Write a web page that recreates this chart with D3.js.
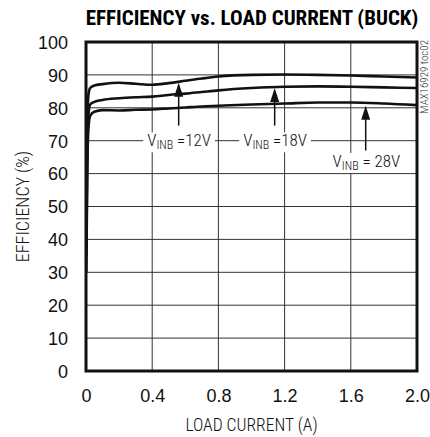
<!DOCTYPE html>
<html>
<head>
<meta charset="utf-8">
<script src="https://cdn.jsdelivr.net/npm/d3@7"></script>
<style>
  body { margin: 0; background: #fff; }
  svg { display: block; font-family: "Liberation Sans Narrow", "Roboto Condensed", "Liberation Sans", sans-serif; }
</style>
</head>
<body>
<svg></svg>
<script>
const svgWidth = 430;
const svgHeight = 437;

// load current (A)
const loadCurrent = [0.002, 0.008, 0.015, 0.025, 0.05, 0.1, 0.2, 0.3, 0.4, 0.5, 0.6, 0.7, 0.8, 1.0, 1.2, 1.4, 1.6, 1.8, 2.0];
// efficiency (%) for each input voltage
const eff12 = [40, 75, 84, 86, 86.8, 87.2, 87.6, 87.3, 87.0, 87.5, 88.2, 88.9, 89.5, 90.0, 90.1, 90.0, 89.8, 89.5, 89.2];
const eff18 = [35, 68, 78, 81, 81.8, 82.4, 82.9, 83.2, 83.4, 83.9, 84.3, 84.8, 85.3, 86.0, 86.4, 86.5, 86.4, 86.2, 86.0];
const eff28 = [30, 62, 74, 77.5, 78.8, 79.3, 79.2, 79.4, 79.5, 79.8, 80.1, 80.4, 80.6, 81.0, 81.3, 81.6, 81.6, 81.3, 80.8];

const xTicks = [0, 0.4, 0.8, 1.2, 1.6, 2.0];
const xTickLabels = ["0", "0.4", "0.8", "1.2", "1.6", "2.0"];
const yTicks = [0, 10, 20, 30, 40, 50, 60, 70, 80, 90, 100];

// annotation labels: value, text position, arrow
const labelNames = ["=12V", "=18V", "= 28V"];
const labelX = [0.37, 0.95, 1.49];
const labelY = [68.3, 68.3, 62.0];
const arrowX = [0.56, 1.14, 1.69];
const arrowFrom = [74.6, 74.6, 67.0];
const arrowTo = [87.6, 86.0, 80.6];

const margin = {top: 42, right: 13, bottom: 66, left: 86};

const svg = d3.select("svg")
  .attr("width", svgWidth)
  .attr("height", svgHeight);

const x = d3.scaleLinear().domain([0, 2]).range([margin.left, svgWidth - margin.right]);
const y = d3.scaleLinear().domain([0, 100]).range([svgHeight - margin.bottom, margin.top]);

// title
svg.append("text")
  .attr("x", 252).attr("y", 25)
  .attr("text-anchor", "middle")
  .attr("font-size", 21).attr("font-weight", "bold")
  .text("EFFICIENCY vs. LOAD CURRENT (BUCK)");

// grid
svg.append("g").selectAll("line")
  .data(xTicks.slice(1, -1))
  .enter().append("line")
  .attr("x1", d => x(d)).attr("x2", d => x(d))
  .attr("y1", y(0)).attr("y2", y(100))
  .attr("stroke", "#333").attr("stroke-width", 1);

svg.append("g").selectAll("line")
  .data(yTicks.slice(1, -1))
  .enter().append("line")
  .attr("x1", x(0)).attr("x2", x(2))
  .attr("y1", d => y(d)).attr("y2", d => y(d))
  .attr("stroke", "#333").attr("stroke-width", 1);

// axes labels
const yAxis = d3.axisLeft(y).tickValues(yTicks).tickSize(0).tickPadding(18);
svg.append("g")
  .attr("transform", "translate(" + x(0) + ",0)")
  .call(yAxis)
  .call(g => g.select(".domain").remove())
  .selectAll("text")
  .attr("font-size", 18).attr("font-weight", 300).attr("font-family", "inherit").attr("fill", "#111").attr("dy", "0.35em");

const xAxis = d3.axisBottom(x).tickValues(xTicks).tickFormat((d, i) => xTickLabels[i]).tickSize(0).tickPadding(18);
svg.append("g")
  .attr("transform", "translate(0," + y(0) + ")")
  .call(xAxis)
  .call(g => g.select(".domain").remove())
  .selectAll("text")
  .attr("font-size", 18).attr("font-weight", 300).attr("font-family", "inherit").attr("fill", "#111");

svg.append("text")
  .attr("x", (x(0) + x(2)) / 2).attr("y", 431)
  .attr("text-anchor", "middle").attr("font-size", 17.5).attr("font-weight", 300).attr("fill", "#111")
  .text("LOAD CURRENT (A)");

svg.append("text")
  .attr("transform", "translate(29," + y(50) + ") rotate(-90)")
  .attr("text-anchor", "middle").attr("font-size", 18).attr("font-weight", 300).attr("fill", "#111")
  .text("EFFICIENCY (%)");

svg.append("text")
  .attr("transform", "translate(428," + (y(100) - 2) + ") rotate(-90)")
  .attr("text-anchor", "end")
  .attr("font-size", 11).attr("font-weight", 300).attr("fill", "#333")
  .text("MAX16929 toc02");

// curves
const line = d3.line()
  .x((d, i) => x(loadCurrent[i]))
  .y(d => y(d))
  .curve(d3.curveMonotoneX);

svg.append("g").selectAll("path")
  .data([eff12, eff18, eff28])
  .enter().append("path")
  .attr("d", line)
  .attr("fill", "none")
  .attr("stroke", "#111")
  .attr("stroke-width", 2.6);

// annotation labels with white background
const labels = svg.append("g");
labelNames.forEach((name, i) => {
  const g = labels.append("g");
  const bg = g.append("rect").attr("fill", "#fff");
  const t = g.append("text")
    .attr("x", x(labelX[i])).attr("y", y(labelY[i]))
    .attr("font-size", 17).attr("font-weight", 300).attr("fill", "#111");
  t.append("tspan").text("V");
  t.append("tspan").attr("font-size", 12).attr("dy", 3).text("INB");
  t.append("tspan").attr("dy", -3).text(" " + name);
  const b = t.node().getBBox();
  bg.attr("x", b.x - 4).attr("y", b.y + 2).attr("width", b.width + 8).attr("height", b.height - 2);
});

// arrows
const arrows = svg.append("g");
arrowX.forEach((ax, i) => {
  arrows.append("line")
    .attr("x1", x(ax)).attr("x2", x(ax))
    .attr("y1", y(arrowFrom[i])).attr("y2", y(arrowTo[i]) + 8)
    .attr("stroke", "#111").attr("stroke-width", 1.5);
  const tx = x(ax), ty = y(arrowTo[i]);
  arrows.append("path")
    .attr("d", "M" + tx + "," + ty + "L" + (tx - 4.5) + "," + (ty + 14) + "L" + (tx + 4.5) + "," + (ty + 14) + "Z")
    .attr("fill", "#111");
});

// frame
svg.append("rect")
  .attr("x", x(0)).attr("y", y(100))
  .attr("width", x(2) - x(0)).attr("height", y(0) - y(100))
  .attr("fill", "none").attr("stroke", "#111").attr("stroke-width", 3);
</script>
</body>
</html>
